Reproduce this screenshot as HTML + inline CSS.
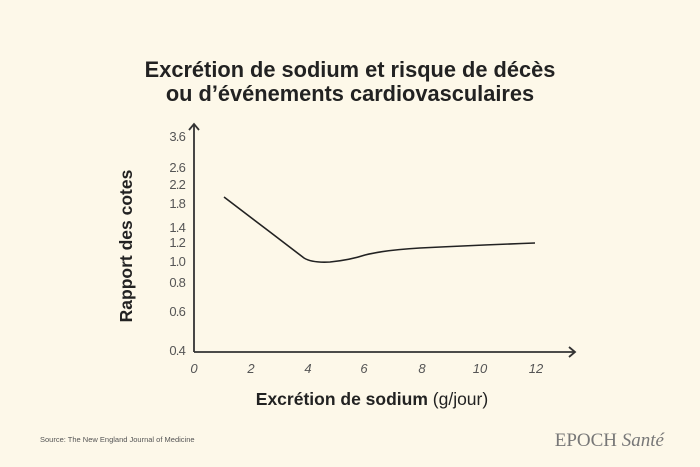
<!DOCTYPE html>
<html><head><meta charset="utf-8"><style>
body{margin:0;background:#fdf8e9;}
svg{display:block;font-family:"Liberation Sans",sans-serif;}
</style></head><body>
<svg width="700" height="467" viewBox="0 0 700 467">
<rect width="700" height="467" fill="#fdf8e9"/>
<text x="350" y="77" text-anchor="middle" font-size="21.8" font-weight="bold" fill="#222">Excrétion de sodium et risque de décès</text>
<text x="350" y="101" text-anchor="middle" font-size="21.8" font-weight="bold" fill="#222">ou d’événements cardiovasculaires</text>
<g stroke="#333" stroke-width="1.8" fill="none">
<line x1="194" y1="124" x2="194" y2="352"/>
<polyline points="189,130 194,124 199,130"/>
<line x1="194" y1="352" x2="575" y2="352"/>
<polyline points="569,347 575,352 569,357"/>
<path d="M224,197 L270,232 L304,258 Q312,263 330,262 Q350,260 365,255 Q385,250 420,248 Q480,245 535,243" stroke="#222" stroke-width="1.6"/>
</g>
<g font-size="13" fill="#555" text-anchor="end" letter-spacing="-0.8">
<text x="185" y="141">3.6</text><text x="185" y="172">2.6</text><text x="185" y="189">2.2</text>
<text x="185" y="208">1.8</text><text x="185" y="232">1.4</text><text x="185" y="247">1.2</text>
<text x="185" y="266">1.0</text><text x="185" y="287">0.8</text><text x="185" y="316">0.6</text>
<text x="185" y="355">0.4</text>
</g>
<g font-size="13" fill="#555" text-anchor="middle" font-style="italic">
<text x="194" y="373">0</text><text x="251" y="373">2</text><text x="308" y="373">4</text>
<text x="364" y="373">6</text><text x="422" y="373">8</text><text x="480" y="373">10</text><text x="536" y="373">12</text>
</g>
<text x="372" y="405" text-anchor="middle" font-size="17.5" fill="#222"><tspan font-weight="bold">Excrétion de sodium</tspan> (g/jour)</text>
<text transform="translate(132,246) rotate(-90)" text-anchor="middle" font-size="17.5" font-weight="bold" fill="#222">Rapport des cotes</text>
<text x="40" y="442" font-size="7.5" fill="#555">Source: The New England Journal of Medicine</text>
<text x="664" y="446" text-anchor="end" font-family="Liberation Serif,serif" font-size="19" fill="#777">EPOCH <tspan font-style="italic">Santé</tspan></text>
</svg>
</body></html>
